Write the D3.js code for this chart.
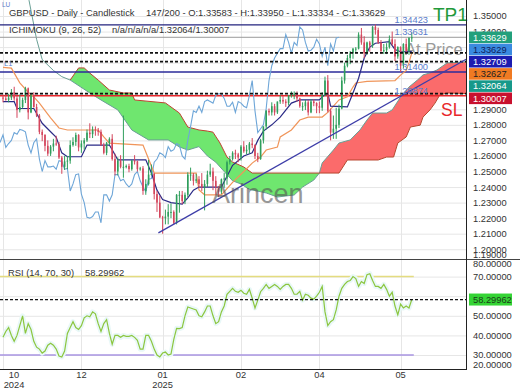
<!DOCTYPE html>
<html><head><meta charset="utf-8">
<script src="https://cdn.jsdelivr.net/npm/d3@7"></script>
<style>
html,body{margin:0;padding:0;background:#fff;}
svg{display:block;font-family:"Liberation Sans",Arial,sans-serif;}
</style></head><body>
<svg id="c" width="520" height="390"></svg>
<script>
// ---------- DATA ----------
const opens=[1.2975,1.2970,1.2960,1.2975,1.3010,1.2970,1.2895,1.2915,1.2960,1.3035,
1.2880,1.2990,1.2915,1.2860,1.2755,1.2735,1.2665,1.2615,1.2660,1.2680,
1.2675,1.2590,1.2530,1.2565,1.2570,1.2670,1.2690,1.2735,1.2655,1.2680,
1.2700,1.2750,1.2740,1.2770,1.2765,1.2755,1.2670,1.2620,1.2685,1.2710,
1.2580,1.2500,1.2570,1.2530,1.2530,1.2535,1.2515,1.2570,1.2565,1.2515,
1.2520,1.2375,1.2420,1.2480,1.2485,1.2355,1.2300,1.2205,1.2200,1.2210,
1.2240,1.2240,1.2170,1.2350,1.2350,1.2310,1.2350,1.2480,1.2480,1.2440,
1.2450,1.2420,1.2400,1.2420,1.2480,1.2500,1.2440,1.2400,1.2370,1.2450,
1.2455,1.2560,1.2580,1.2620,1.2610,1.2590,1.2660,1.2630,1.2640,1.2680,
1.2670,1.2600,1.2580,1.2700,1.2790,1.2890,1.2880,1.2920,1.2880,1.2950,
1.2960,1.2950,1.2940,1.2990,1.3000,1.3000,1.2970,1.2920,1.2920,1.2945,
1.2880,1.2950,1.2940,1.2920,1.2910,1.2990,1.3085,1.2890,1.2750,1.2775,
1.2800,1.2905,1.3085,1.3180,1.3230,1.3260,1.3290,1.3290,1.3380,1.3330,
1.3260,1.3330,1.3310,1.3430,1.3410,1.3330,1.3275,1.3280,1.3300,1.3350,
1.3320,1.3240,1.3300,1.3180,1.3320,1.3275,1.33583];
const highs=[1.2995,1.3000,1.3000,1.3030,1.3045,1.2990,1.2995,1.2975,1.3045,1.3040,
1.3005,1.3010,1.2935,1.2870,1.2770,1.2740,1.2700,1.2670,1.2710,1.2730,
1.2690,1.2600,1.2600,1.2600,1.2700,1.2720,1.2750,1.2740,1.2700,1.2715,
1.2770,1.2810,1.2790,1.2790,1.2780,1.2770,1.2685,1.2690,1.2720,1.2740,
1.2615,1.2590,1.2605,1.2860,1.2545,1.2550,1.2575,1.2605,1.2570,1.2530,
1.2535,1.2450,1.2575,1.2545,1.2490,1.2375,1.2345,1.2215,1.2255,1.2290,
1.2295,1.2250,1.2355,1.2375,1.2375,1.2365,1.2495,1.2525,1.2490,1.2485,
1.2470,1.2490,1.2445,1.2505,1.2550,1.2525,1.2470,1.2405,1.2455,1.2490,
1.2570,1.2600,1.2630,1.2640,1.2620,1.2670,1.2695,1.2670,1.2690,1.2715,
1.2675,1.2620,1.2710,1.2790,1.2895,1.2905,1.2945,1.2935,1.2950,1.2990,
1.2985,1.2965,1.2990,1.3015,1.3015,1.3015,1.2975,1.2945,1.2960,1.2960,
1.2965,1.2965,1.2945,1.2950,1.3010,1.3110,1.3120,1.2905,1.2860,1.2910,
1.2930,1.3110,1.3200,1.3250,1.3275,1.3295,1.3300,1.3395,1.3423,1.3370,
1.3335,1.3340,1.3435,1.3445,1.3425,1.3345,1.3320,1.3325,1.3375,1.3400,
1.3350,1.3305,1.3305,1.3325,1.3355,1.3365,1.33950];
const lows=[1.2945,1.2955,1.2945,1.2960,1.2955,1.2845,1.2880,1.2905,1.2940,1.2835,
1.2875,1.2910,1.2850,1.2740,1.2695,1.2630,1.2600,1.2600,1.2630,1.2665,
1.2580,1.2485,1.2510,1.2515,1.2550,1.2660,1.2665,1.2630,1.2620,1.2640,
1.2690,1.2715,1.2715,1.2730,1.2730,1.2665,1.2610,1.2605,1.2670,1.2570,
1.2475,1.2475,1.2520,1.2460,1.2520,1.2495,1.2505,1.2545,1.2500,1.2505,
1.2350,1.2350,1.2410,1.2475,1.2320,1.2240,1.2200,1.2100,1.2160,1.2160,
1.2200,1.2160,1.2160,1.2235,1.2290,1.2290,1.2335,1.2440,1.2410,1.2425,
1.2395,1.2375,1.2250,1.2400,1.2465,1.2380,1.2350,1.2335,1.2355,1.2395,
1.2415,1.2545,1.2570,1.2580,1.2560,1.2570,1.2620,1.2610,1.2615,1.2650,
1.2580,1.2560,1.2575,1.2680,1.2770,1.2860,1.2860,1.2860,1.2870,1.2935,
1.2935,1.2915,1.2925,1.2975,1.2965,1.2950,1.2910,1.2890,1.2895,1.2860,
1.2875,1.2920,1.2875,1.2875,1.2890,1.2985,1.2880,1.2700,1.2710,1.2710,
1.2780,1.2900,1.3065,1.3170,1.3190,1.3225,1.3270,1.3285,1.3315,1.3230,
1.3250,1.3270,1.3295,1.3380,1.3320,1.3255,1.3255,1.3255,1.3290,1.3310,
1.3210,1.3225,1.3140,1.3165,1.3260,1.3250,1.33334];
const closes=[1.2970,1.2960,1.2975,1.3010,1.2970,1.2895,1.2915,1.2960,1.3035,1.2880,
1.2990,1.2915,1.2860,1.2755,1.2735,1.2665,1.2615,1.2660,1.2680,1.2675,
1.2590,1.2530,1.2565,1.2570,1.2670,1.2690,1.2735,1.2655,1.2680,1.2700,
1.2750,1.2740,1.2770,1.2765,1.2755,1.2670,1.2620,1.2685,1.2710,1.2580,
1.2500,1.2570,1.2530,1.2530,1.2535,1.2515,1.2570,1.2565,1.2515,1.2520,
1.2375,1.2420,1.2480,1.2485,1.2355,1.2300,1.2205,1.2200,1.2210,1.2240,
1.2240,1.2170,1.2350,1.2350,1.2310,1.2350,1.2480,1.2480,1.2440,1.2450,
1.2420,1.2400,1.2420,1.2480,1.2500,1.2440,1.2400,1.2370,1.2450,1.2455,
1.2560,1.2580,1.2620,1.2610,1.2590,1.2660,1.2630,1.2640,1.2680,1.2670,
1.2600,1.2580,1.2700,1.2790,1.2890,1.2880,1.2920,1.2880,1.2950,1.2960,
1.2950,1.2940,1.2990,1.3000,1.3000,1.2970,1.2920,1.2920,1.2945,1.2880,
1.2950,1.2940,1.2920,1.2910,1.2990,1.3085,1.2890,1.2750,1.2775,1.2800,
1.2905,1.3085,1.3180,1.3230,1.3260,1.3290,1.3290,1.3380,1.3330,1.3260,
1.3330,1.3310,1.3430,1.3410,1.3330,1.3275,1.3280,1.3300,1.3350,1.3320,
1.3240,1.3300,1.3180,1.3320,1.3275,1.3358,1.33629];
const rsi=[39,42,44,40,37,40,45,50,41,46, 43,37,34,33,31,32,35,36,35,33,
29.5,29,32,41,44,47,44,43,45,49, 50,49.5,52,51,46,42,46,48,41,35.5,
40,40,39,40,39.5,39.5,40,39,37.5,33, 33,40,40,37,33,30,29,31,31.5,30,
30.5,38,43.6,43.5,44,50,54.5,54,53.5,53, 50,49.5,52,55,55,50,46,47,52,55,
61,62.5,64,62.5,62,63,61.5,61,63.5,59, 54,58,62.3,64,66,64,65,66,65,63.5,
65,66,66,64,61,61,62.5,58,61,60.5, 59,58.5,60,62,65,52,45,47,48,53,
60,64,66,67.5,68,70,69,65,67.5,66.5, 71,71.5,68,65,65,64,66,63.5,60,62,
55,50.5,56,54,55,54,58.29962];
// Ichimoku lines as [barIndex, price]
const tenkan=[[0,1.2950],[4,1.2950],[5,1.2905],[11,1.2905],[14,1.2810],[19,1.2720],[21,1.2620],[23,1.2595],[28,1.2595],[30,1.2670],[38,1.2670],[39,1.2640],[41,1.2575],[51,1.2575],[53,1.2490],[55,1.2380],[57,1.2320],[60,1.2300],[64,1.2290],[66,1.2330],[68,1.2380],[70,1.2400],[78,1.2400],[80,1.2470],[82,1.2540],[86,1.2600],[89,1.2620],[91,1.2700],[93,1.2760],[96,1.2800],[99,1.2850],[103,1.2940],[106,1.2960],[113,1.2960],[114,1.2980],[116,1.3005],[117,1.2920],[123,1.2915],[125,1.3005],[127,1.3100],[129,1.3230],[131,1.3300],[133,1.3325],[138,1.3335],[140,1.3285],[142,1.3270],[146,1.32709]];
const kijun=[[0,1.3170],[3,1.3165],[6,1.3070],[9,1.3010],[11,1.2980],[13,1.2940],[17,1.2845],[20,1.2780],[23,1.2767],[34,1.2767],[36,1.2722],[38,1.2683],[50,1.2670],[52,1.2580],[54,1.2490],[69,1.2490],[70,1.2381],[72,1.2350],[78,1.2350],[82,1.2430],[86,1.2500],[89,1.2554],[92,1.2593],[94,1.2638],[98,1.2657],[99,1.2722],[103,1.2767],[106,1.2831],[109,1.2850],[114,1.2850],[116,1.2880],[120,1.2960],[123,1.2980],[125,1.3043],[126,1.3069],[130,1.3080],[140,1.3085],[142,1.3120],[144,1.3150],[145,1.3200],[146,1.32627]];
const spanA=[[8.5,1.3700],[9.3,1.3600],[12,1.3350],[14,1.3220],[18,1.3150],[21,1.3110],[24,1.3088],[31,1.3005],[35,1.2960],[41,1.2896],[46,1.2767],[52,1.2703],[59,1.2703],[63,1.2658],[66,1.2638],[70,1.2660],[73,1.2600],[76,1.2560],[79,1.2500],[82,1.2440],[85,1.2420],[88,1.2385],[94,1.2362],[98,1.2336],[104,1.2349],[107,1.2400],[111,1.2445],[113,1.2490],[114,1.2555],[118,1.2638],[120,1.2683],[124,1.2703],[127.5,1.2767],[130,1.2831],[132,1.2876],[137,1.2876],[139,1.2896],[142,1.2979],[145,1.3043],[148,1.3088],[150,1.3121],[152.5,1.3134],[155,1.3153],[158.6,1.3198],[164,1.3204],[167,1.32064]];
const spanB=[[24,1.3088],[27,1.3166],[29,1.3166],[31,1.3133],[34,1.3088],[38,1.3024],[43,1.3005],[46,1.3005],[47,1.2960],[58,1.2941],[63,1.2876],[66,1.2786],[70,1.2767],[73,1.2760],[75,1.2753],[77.5,1.2683],[80,1.2593],[82,1.2561],[86,1.2529],[89,1.2490],[120,1.2490],[123,1.2574],[134,1.2574],[137,1.2593],[139.5,1.2593],[141,1.2683],[144,1.2722],[145.5,1.2786],[149,1.2798],[150,1.2850],[152.5,1.2896],[154.3,1.2940],[156,1.2992],[158.6,1.3005],[167,1.30007]];
const chikouShift=26;
const trendLine=[[55.5,1.2105],[165.4,1.3222]];
const priceTicks=[1.20,1.21,1.22,1.23,1.24,1.25,1.26,1.27,1.28,1.29,1.30,1.31,1.32,1.33,1.34,1.35];
const priceLabelTicks=[1.20,1.21,1.22,1.23,1.24,1.25,1.26,1.27,1.28,1.29,1.34,1.35];
const rsiTicks=[30,40,50,60,70];
const rsiLabelTicks=[30,40,50,70];
const tickBars=[0,28,57,85,113,142];
const tickMonths=["10","12","01","02","04","05"];
const tickYears=["2024","","2025","","",""];
const levelTP=1.34423, levelLast=1.33631, levelMid=1.31400, levelSL=1.29874;
const dottedLevels=[1.32627,1.32064,1.30007];
const axisTags=[["1.33629",1.33629,"#23a07c","#fff"],["1.33629",1.33629,"#3a8ae0","#10205a"],["1.32709",1.32709,"#1c1cb0","#fff"],["1.32627",1.32627,"#f07a22","#222"],["1.32064",1.32064,"#17998a","#fff"],["1.30007",1.30007,"#c8102e","#fff"]];
const rsiLast=58.29962;

// ---------- SETUP ----------
const svg=d3.select("#c");
const PW=466, MB=259, RT=260, RB=369;
const x=d3.scaleLinear().domain([-1.071,165.36]).range([0,PW]);
const y=d3.scaleLinear().domain([1.19373,1.36029]).range([MB,0]);
const yr=d3.scaleLinear().domain([22.86,78.47]).range([RB,RT]);
const defs=svg.append("defs");
defs.append("clipPath").attr("id","mclip").append("rect").attr("x",0).attr("y",0).attr("width",PW).attr("height",MB);
defs.append("clipPath").attr("id","rclip").append("rect").attr("x",0).attr("y",RT).attr("width",PW).attr("height",RB-RT);

const grid=svg.append("g");
grid.selectAll(".hg").data(priceTicks).join("line").attr("x1",0).attr("x2",PW)
 .attr("y1",d=>y(d)+0.5).attr("y2",d=>y(d)+0.5).attr("stroke","#e6e6e6");
grid.selectAll(".rg").data(rsiTicks).join("line").attr("x1",0).attr("x2",PW)
 .attr("y1",d=>yr(d)+0.5).attr("y2",d=>yr(d)+0.5).attr("stroke","#e6e6e6");
grid.selectAll(".vg").data(tickBars).join("line").attr("y1",0).attr("y2",RB)
 .attr("x1",d=>Math.round(x(d))+0.5).attr("x2",d=>Math.round(x(d))+0.5).attr("stroke","#e6e6e6");

const main=svg.append("g").attr("clip-path","url(#mclip)");
const lineP=d3.line().x(d=>x(d[0])).y(d=>y(d[1]));

// cloud
const b0=spanB[0][0], bN=spanB[spanB.length-1][0];
const aPts=spanA.filter(d=>d[0]>=b0);
const poly=lineP(aPts)+"L"+lineP(spanB.slice().reverse()).slice(1)+"Z";
const bPath=lineP(spanB).slice(1);
defs.append("clipPath").attr("id","aboveB").append("path").attr("d","M"+x(b0)+",-20L"+bPath+"L"+x(bN)+",-20Z");
defs.append("clipPath").attr("id","belowB").append("path").attr("d","M"+x(b0)+",300L"+bPath+"L"+x(bN)+",300Z");
main.append("g").attr("clip-path","url(#aboveB)").append("path").attr("d",poly).attr("fill","#fb6b6b");
main.append("g").attr("clip-path","url(#belowB)").append("path").attr("d",poly).attr("fill","#6fe66f");
main.append("path").attr("d",lineP(spanA)).attr("fill","none").attr("stroke","#6a9f95").attr("stroke-width",1);
main.append("path").attr("d",lineP(spanB)).attr("fill","none").attr("stroke","#b9452f").attr("stroke-width",1);

// horizontal level lines
const hl=(v,c,w,dash)=>main.append("line").attr("x1",0).attr("x2",PW).attr("y1",y(v)).attr("y2",y(v))
 .attr("stroke",c).attr("stroke-width",w).attr("stroke-dasharray",dash||null);
hl(levelLast,"#9a9a9a",1);
hl(levelTP,"#23237e",1.3);
hl(levelMid,"#2b2b9a",1.3);
hl(levelSL,"#e8262a",1.5);

main.append("text").attr("x",405).attr("y",55).text("At Price").attr("font-size",16.5).attr("fill","#9a9a9a");

// chikou, kijun, tenkan
const chik=closes.map((c,i)=>[i-chikouShift,c]).filter(d=>d[0]>=-2);
main.append("path").attr("d",lineP(chik)).attr("fill","none").attr("stroke","#6ea6d8").attr("stroke-width",1.1);
main.append("path").attr("d",lineP(kijun)).attr("fill","none").attr("stroke","#f0955a").attr("stroke-width",1.2);
main.append("path").attr("d",lineP(tenkan)).attr("fill","none").attr("stroke","#2a2a86").attr("stroke-width",1.2);

// candles
const cg=main.append("g");
closes.forEach((c,i)=>{
  const o=opens[i], col=c>=o?"#2f9e5c":"#d4455c";
  const xi=x(i);
  cg.append("line").attr("x1",xi).attr("x2",xi).attr("y1",y(highs[i])).attr("y2",y(lows[i])).attr("stroke",col).attr("stroke-width",1);
  const top=y(Math.max(o,c)), bot=y(Math.min(o,c));
  cg.append("rect").attr("x",xi-0.8).attr("width",1.6).attr("y",top).attr("height",Math.max(1,bot-top)).attr("fill",col);
});

// dotted
dottedLevels.forEach(v=>hl(v,"#111",1.6,"3,2"));
// trend
main.append("path").attr("d",lineP(trendLine)).attr("stroke","#3d3da8").attr("stroke-width",1.3).attr("fill","none");

// level labels
const lab=(v,t)=>svg.append("text").attr("x",428).attr("y",y(v)-2).attr("text-anchor","end").attr("font-size",9.3).attr("fill","#5b7dcc").text(t);
lab(levelTP,"1.34423");lab(levelLast,"1.33631");lab(levelMid,"1.31400");lab(levelSL,"1.29874");
svg.append("text").attr("x",433).attr("y",21).text("TP1").attr("font-size",19).attr("fill","#22993a");
svg.append("text").attr("x",441).attr("y",116).text("SL").attr("font-size",17.5).attr("fill","#e8262a");

// header
svg.append("text").attr("x",9).attr("y",16).attr("font-size",9.4).attr("fill","#333").text("GBPUSD - Daily - Candlestick");
svg.append("text").attr("x",146).attr("y",16).attr("font-size",9.4).attr("fill","#333").text("147/200 - O:1.33583 - H:1.33950 - L:1.33334 - C:1.33629");
svg.append("text").attr("x",9).attr("y",33).attr("font-size",9.4).attr("fill","#333").text("ICHIMOKU (9, 26, 52)");
svg.append("text").attr("x",112).attr("y",33).attr("font-size",9.4).attr("fill","#333").text("n/a/n/a/n/a/1.32064/1.30007");
svg.append("text").attr("x",2).attr("y",7).attr("font-size",6.5).attr("fill","#5b7dcc").text("LU");
svg.append("text").attr("x",4).attr("y",66).attr("font-size",7.5).attr("fill","#5b7dcc").text("L1");

// watermark
svg.append("text").attr("x",212).attr("y",203).text("Arincen").attr("font-size",27).attr("fill","#555").attr("opacity",0.6);

// price axis
const pa=svg.append("g").attr("transform",`translate(${PW},0)`)
 .call(d3.axisRight(y).tickValues(priceLabelTicks).tickSize(0).tickPadding(7).tickFormat(d3.format(".5f")));
pa.select(".domain").remove();
pa.selectAll("text").attr("font-size",9.3).attr("fill","#333").attr("font-family","Liberation Sans, Arial, sans-serif");
svg.append("text").attr("x",PW+7).attr("y",Math.min(y(1.19),255)).attr("dy","0.32em").attr("font-size",9.3).attr("fill","#333").text("1.19000");

// axis tags stacked
let prev=-100;
axisTags.forEach(t=>{
  const cy=Math.max(y(t[1]),prev+12.2); prev=cy;
  svg.append("rect").attr("x",469).attr("y",cy-5.8).attr("width",43).attr("height",11.6).attr("fill",t[2]);
  svg.append("text").attr("x",473).attr("y",cy).attr("dy","0.35em").attr("font-size",9.3).attr("fill",t[3]).text(t[0]);
});

// ---------- RSI ----------
const rg=svg.append("g").attr("clip-path","url(#rclip)");
const lastX=x(rsi.length-1)+2;
rg.append("line").attr("x1",0).attr("x2",lastX).attr("y1",yr(70)).attr("y2",yr(70)).attr("stroke","#e4dc80").attr("stroke-width",1.5);
rg.append("line").attr("x1",0).attr("x2",lastX).attr("y1",yr(30)).attr("y2",yr(30)).attr("stroke","#a895e2").attr("stroke-width",1.5);
const lineR=d3.line().x((d,i)=>x(i)).y(d=>yr(d));
rg.append("path").attr("d",lineR(rsi)).attr("fill","none").attr("stroke","#e9f8f8").attr("stroke-width",5).attr("stroke-linejoin","round");
rg.append("path").attr("d",lineR(rsi)).attr("fill","none").attr("stroke","#8cc63f").attr("stroke-width",1.2);
rg.append("line").attr("x1",0).attr("x2",PW).attr("y1",yr(rsiLast)).attr("y2",yr(rsiLast)).attr("stroke","#111").attr("stroke-width",1.2).attr("stroke-dasharray","3,2");
svg.append("text").attr("x",8).attr("y",276).attr("font-size",9.4).attr("fill","#333").text("RSI (14, 70, 30)");
svg.append("text").attr("x",85).attr("y",276).attr("font-size",9.4).attr("fill","#333").text("58.29962");

const ra=svg.append("g").attr("transform",`translate(${PW},0)`)
 .call(d3.axisRight(yr).tickValues(rsiLabelTicks).tickSize(0).tickPadding(7).tickFormat(d3.format(".5f")));
ra.select(".domain").remove();
ra.selectAll("text").attr("font-size",9.3).attr("fill","#333").attr("font-family","Liberation Sans, Arial, sans-serif");
svg.append("text").attr("x",PW+7).attr("y",264).attr("dy","0.32em").attr("font-size",9.3).attr("fill","#333").text("80.00000");
svg.append("text").attr("x",PW+7).attr("y",365).attr("dy","0.32em").attr("font-size",9.3).attr("fill","#333").text("20.00000");
svg.append("rect").attr("x",469).attr("y",yr(rsiLast)-6).attr("width",43).attr("height",12).attr("fill","#35d435");
svg.append("text").attr("x",473).attr("y",yr(rsiLast)).attr("dy","0.35em").attr("font-size",9.3).attr("fill","#1a3d1a").text("58.29962");

// borders
svg.append("line").attr("x1",0).attr("x2",520).attr("y1",259.5).attr("y2",259.5).attr("stroke","#444");
svg.append("line").attr("x1",0).attr("x2",PW).attr("y1",369.5).attr("y2",369.5).attr("stroke","#222");
svg.append("line").attr("x1",PW+0.5).attr("x2",PW+0.5).attr("y1",0).attr("y2",370).attr("stroke","#222");

// x labels
const xl=svg.append("g");
tickBars.forEach((b,i)=>{
  const xx=Math.max(x(b),14);
  xl.append("text").attr("x",xx).attr("y",378).attr("text-anchor","middle").attr("font-size",9.3).attr("fill","#333").text(tickMonths[i]);
  if(tickYears[i]) xl.append("text").attr("x",xx).attr("y",388).attr("text-anchor","middle").attr("font-size",9.3).attr("fill","#333").text(tickYears[i]);
});
</script>
</body></html>
